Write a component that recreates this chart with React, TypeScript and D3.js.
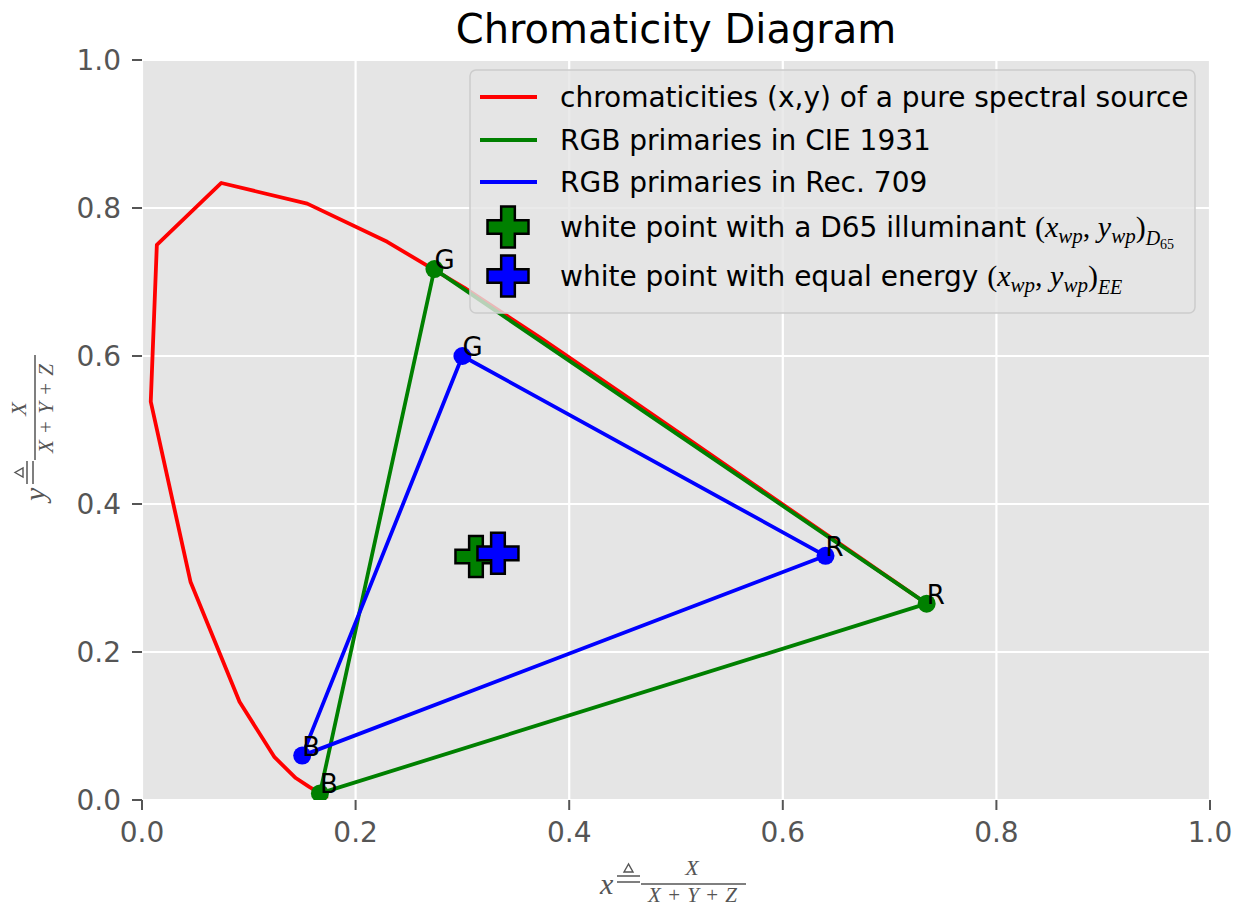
import React from 'react';
import * as d3 from 'd3';

// spectral locus (CIE 1931, 10 nm steps)
const wavelengths = [380, 390, 400, 410, 420, 430, 440, 450, 460, 470, 480, 490, 500, 510, 520, 530, 540, 550, 560, 570, 580, 590, 600, 610, 620, 630, 640, 650, 660, 670, 680, 690, 700];
const locusX = [0.1741, 0.1738, 0.1733, 0.1726, 0.1714, 0.1689, 0.1644, 0.1566, 0.1440, 0.1241, 0.0913, 0.0454, 0.0082, 0.0139, 0.0743, 0.1547, 0.2296, 0.3016, 0.3731, 0.4441, 0.5125, 0.5752, 0.6270, 0.6658, 0.6915, 0.7079, 0.7190, 0.7260, 0.7300, 0.7320, 0.7334, 0.7344, 0.7347];
const locusY = [0.0050, 0.0049, 0.0048, 0.0048, 0.0051, 0.0069, 0.0109, 0.0177, 0.0297, 0.0578, 0.1327, 0.2950, 0.5384, 0.7502, 0.8338, 0.8059, 0.7543, 0.6923, 0.6245, 0.5547, 0.4866, 0.4242, 0.3725, 0.3340, 0.3083, 0.2920, 0.2809, 0.2740, 0.2700, 0.2680, 0.2666, 0.2656, 0.2653];

const primaryNames = ['R', 'G', 'B'];
const cieX = [0.7347, 0.2738, 0.1666];
const cieY = [0.2653, 0.7174, 0.0089];
const rec709X = [0.64, 0.30, 0.15];
const rec709Y = [0.33, 0.60, 0.06];

const whiteD65 = [0.3127, 0.3290];
const whiteEE = [0.3333, 0.3333];

const tickValues = [0, 0.2, 0.4, 0.6, 0.8, 1.0];
const legendLabels = [
  'chromaticities (x,y) of a pure spectral source',
  'RGB primaries in CIE 1931',
  'RGB primaries in Rec. 709',
  'white point with a D65 illuminant ',
  'white point with equal energy ',
];

const W = 1239;
const H = 910;
const M = { left: 142, right: 1210, top: 60, bottom: 800 };
const SANS = 'DejaVu Sans';
const SERIF = 'Liberation Serif';
const GREY = '#555555';

const plusPath = (size: number) => {
  const a = size / 2;
  const b = size / 6;
  return `M${-b},${-a}H${b}V${-b}H${a}V${b}H${b}V${a}H${-b}V${b}H${-a}V${-b}H${-b}Z`;
};

const FracLabel = ({ v, transform }: { v: string; transform: string }) => (
  <g transform={transform} fill={GREY} stroke="none">
    <text x={0} y={10} fontFamily={SERIF} fontStyle="italic" fontSize={30}>{v}</text>
    <line x1={17} x2={40} y1={-8} y2={-8} stroke={GREY} strokeWidth={1.5} />
    <line x1={17} x2={40} y1={-2} y2={-2} stroke={GREY} strokeWidth={1.5} />
    <path d="M28.5,-20L24,-12H33Z" fill="none" stroke={GREY} strokeWidth={1.4} />
    <line x1={41} x2={146} y1={0} y2={0} stroke={GREY} strokeWidth={1.5} />
    <text x={92} y={-9} textAnchor="middle" fontFamily={SERIF} fontStyle="italic" fontSize={22}>X</text>
    <text x={93} y={18} textAnchor="middle" fontFamily={SERIF} fontSize={21} letterSpacing={1}>
      <tspan fontStyle="italic">X</tspan> + <tspan fontStyle="italic">Y</tspan> + <tspan fontStyle="italic">Z</tspan>
    </text>
  </g>
);

const WpMath = ({ sub, subsub }: { sub: string; subsub?: string }) => (
  <>
    <tspan fontFamily={SERIF} fontSize={30}>(</tspan>
    <tspan fontFamily={SERIF} fontSize={30} fontStyle="italic">x</tspan>
    <tspan fontFamily={SERIF} fontStyle="italic" fontSize={21} dy={6}>wp</tspan>
    <tspan fontFamily={SERIF} fontSize={30} dy={-6}>, </tspan>
    <tspan fontFamily={SERIF} fontSize={30} fontStyle="italic">y</tspan>
    <tspan fontFamily={SERIF} fontStyle="italic" fontSize={21} dy={6}>wp</tspan>
    <tspan fontFamily={SERIF} fontSize={30} dy={-6}>)</tspan>
    <tspan fontFamily={SERIF} fontStyle="italic" fontSize={20} dy={8}>{sub}</tspan>
    {subsub ? <tspan fontFamily={SERIF} fontSize={14} dy={4}>{subsub}</tspan> : null}
  </>
);

export default function App() {
  const x = d3.scaleLinear().domain([0, 1]).range([M.left, M.right]);
  const y = d3.scaleLinear().domain([0, 1]).range([M.bottom, M.top]);
  const fmt = d3.format('.1f');

  const line = d3.line<[number, number]>().x((d) => x(d[0])).y((d) => y(d[1]));
  const locus = wavelengths.map((_, i) => [locusX[i], locusY[i]] as [number, number]);
  const cie = cieX.map((v, i) => [v, cieY[i]] as [number, number]);
  const rec = rec709X.map((v, i) => [v, rec709Y[i]] as [number, number]);

  const triangles = [
    { pts: cie, color: '#008000' },
    { pts: rec, color: '#0000ff' },
  ];

  const legendRows = [97, 140, 182, 227, 276];
  const legendColors = ['#ff0000', '#008000', '#0000ff'];

  return (
    <svg width={W} height={H} style={{ position: 'absolute', left: 0, top: 0, background: '#fff' }}>
      <defs>
        <clipPath id="plotClip">
          <rect x={M.left} y={M.top} width={M.right - M.left} height={M.bottom - M.top} />
        </clipPath>
      </defs>

      <rect x={M.left} y={M.top} width={M.right - M.left} height={M.bottom - M.top} fill="#E5E5E5" />

      {/* grid */}
      {tickValues.map((t) => (
        <g key={`g${t}`}>
          <line x1={x(t)} x2={x(t)} y1={M.top} y2={M.bottom} stroke="#fff" strokeWidth={2.2} />
          <line x1={M.left} x2={M.right} y1={y(t)} y2={y(t)} stroke="#fff" strokeWidth={2.2} />
        </g>
      ))}

      {/* ticks */}
      {tickValues.map((t) => (
        <g key={`t${t}`} fill={GREY} fontFamily={SANS} fontSize={28}>
          <line x1={x(t)} x2={x(t)} y1={M.bottom} y2={M.bottom + 10} stroke={GREY} strokeWidth={2} />
          <text x={x(t)} y={M.bottom + 42} textAnchor="middle">{fmt(t)}</text>
          <line x1={M.left - 10} x2={M.left} y1={y(t)} y2={y(t)} stroke={GREY} strokeWidth={2} />
          <text x={M.left - 21} y={y(t) + 10} textAnchor="end">{fmt(t)}</text>
        </g>
      ))}

      <g clipPath="url(#plotClip)">
        <path d={line(locus) || ''} fill="none" stroke="#ff0000" strokeWidth={3.8} strokeLinejoin="round" />
        {triangles.map((tr) => (
          <g key={tr.color}>
            <path d={line([...tr.pts, tr.pts[0]]) || ''} fill="none" stroke={tr.color} strokeWidth={3.8} strokeLinejoin="round" />
            {tr.pts.map((p, i) => (
              <circle key={i} cx={x(p[0])} cy={y(p[1])} r={9} fill={tr.color} />
            ))}
          </g>
        ))}
        <path d={plusPath(41)} transform={`translate(${x(whiteD65[0])},${y(whiteD65[1])})`} fill="#008000" stroke="#000" strokeWidth={2.5} />
        <path d={plusPath(41)} transform={`translate(${x(whiteEE[0])},${y(whiteEE[1])})`} fill="#0000ff" stroke="#000" strokeWidth={2.5} />
      </g>

      {/* primary labels */}
      {[cie, rec].map((pts, k) =>
        pts.map((p, i) => (
          <text key={`${k}${i}`} x={x(p[0])} y={y(p[1])} fontFamily={SANS} fontSize={26} fill="#000">
            {primaryNames[i]}
          </text>
        ))
      )}

      {/* legend */}
      <rect x={470} y={70} width={725} height={243} rx={6} fill="#E5E5E5" fillOpacity={0.8} stroke="#CCCCCC" strokeWidth={1.5} />
      {legendLabels.map((lbl, i) => (
        <g key={lbl}>
          {i < 3 ? (
            <line x1={480} x2={537} y1={legendRows[i]} y2={legendRows[i]} stroke={legendColors[i]} strokeWidth={3.8} />
          ) : (
            <path d={plusPath(41)} transform={`translate(508,${legendRows[i]})`} fill={i === 3 ? '#008000' : '#0000ff'} stroke="#000" strokeWidth={2.5} />
          )}
          <text x={560} y={legendRows[i] + 10} fontFamily={SANS} fontSize={28} fill="#000">
            {lbl}
            {i === 3 ? <WpMath sub="D" subsub="65" /> : null}
            {i === 4 ? <WpMath sub="EE" /> : null}
          </text>
        </g>
      ))}

      {/* title and axis labels */}
      <text x={(M.left + M.right) / 2} y={43} textAnchor="middle" fontFamily={SANS} fontSize={40} fill="#000">
        Chromaticity Diagram
      </text>
      <FracLabel v="x" transform="translate(600,884)" />
      <FracLabel v="y" transform="translate(35,501) rotate(-90)" />
    </svg>
  );
}
